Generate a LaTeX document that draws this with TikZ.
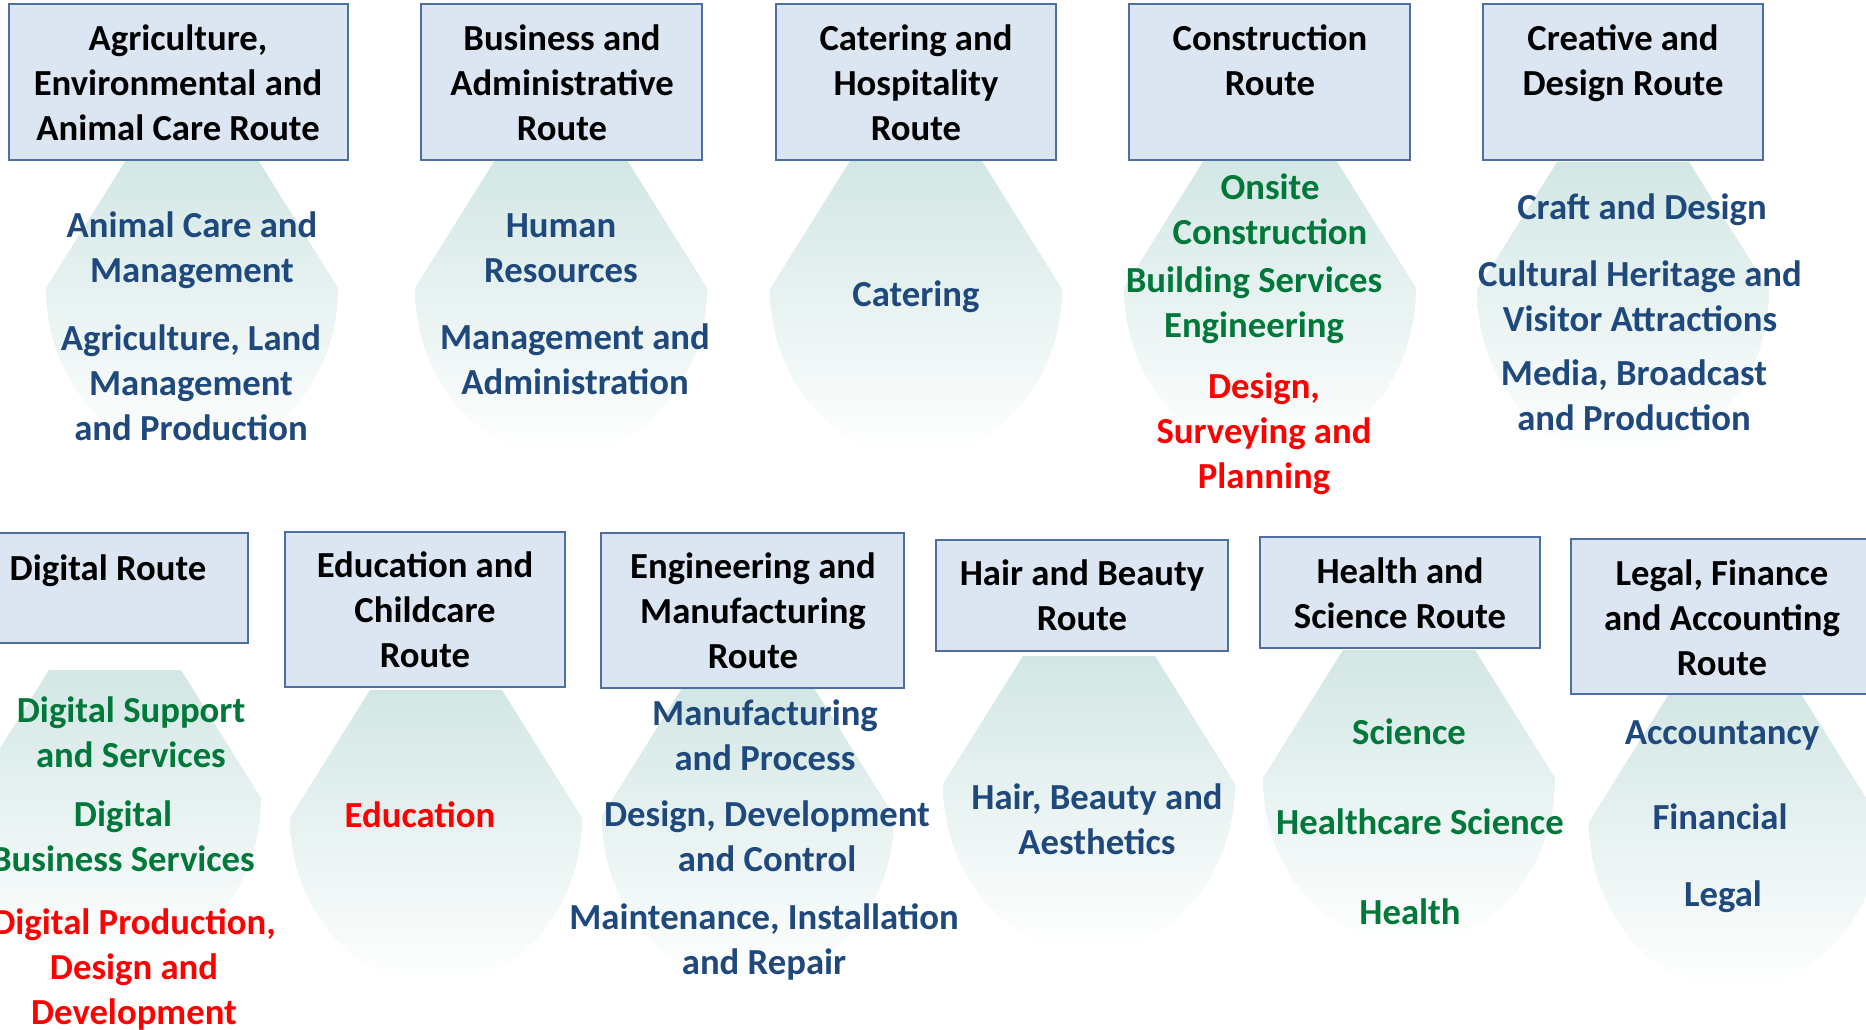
\documentclass[tikz,border=0pt]{standalone}
\usepackage{fontspec}
\setmainfont{Carlito}
\definecolor{boxfill}{HTML}{DCE6F2}
\definecolor{boxline}{HTML}{4E6FA3}
\definecolor{txtblue}{HTML}{1F497D}
\definecolor{txtgreen}{HTML}{00783A}
\definecolor{txtred}{HTML}{FF0000}
\definecolor{shadetop}{HTML}{D2E7E5}
\tikzset{
  routebox/.style={draw=boxline, fill=boxfill, line width=1.5pt, inner sep=0pt},
  rtitle/.style={align=center, text=black, inner sep=0pt,
    font=\bfseries\fontsize{36.7}{45}\selectfont,
    execute at begin node=\strut, execute at end node=\strut},
  subblue/.style={rtitle, text=txtblue},
  subgreen/.style={rtitle, text=txtgreen},
  subred/.style={rtitle, text=txtred},
  blob/.style={top color=shadetop, bottom color=white, draw=none}
}
\newcommand\routeblob[2]{%
  \path[blob] ({#1-66},#2) -- ({#1+66},#2) -- ({#1+146},{#2+128})
    .. controls ({#1+146},{#2+220}) and ({#1+81},{#2+295}) .. ({#1},{#2+295})
    .. controls ({#1-81},{#2+295}) and ({#1-146},{#2+220}) .. ({#1-146},{#2+128}) -- cycle;}
\begin{document}
\begin{tikzpicture}[x=1pt, y=-1pt]
\useasboundingbox (0,0) rectangle (1866,1030);
\clip (0,0) rectangle (1866,1030);
\fill[white] (0,0) rectangle (1866,1030);
% background shapes
\routeblob{192}{160}
\routeblob{561}{160}
\routeblob{916}{161}
\routeblob{1270}{160}
\routeblob{1623}{162}
\routeblob{115}{670}
\routeblob{436}{690}
\routeblob{748}{688}
\routeblob{1089}{656}
\routeblob{1409}{650}
\routeblob{1735}{694}
% top boxes
\node[routebox, minimum width=339, minimum height=156] (bx1) at (178.5,82) {};
\node[routebox, minimum width=281, minimum height=156] (bx2) at (561.5,82) {};
\node[routebox, minimum width=280, minimum height=156] (bx3) at (916,82) {};
\node[routebox, minimum width=281, minimum height=156] (bx4) at (1269.5,82) {};
\node[routebox, minimum width=280, minimum height=156] (bx5) at (1623,82) {};
% bottom boxes
\node[routebox, minimum width=280, minimum height=110] (by1) at (108,588) {};
\node[routebox, minimum width=280, minimum height=155] (by2) at (425,609.5) {};
\node[routebox, minimum width=303, minimum height=155] (by3) at (752.5,610.5) {};
\node[routebox, minimum width=292, minimum height=111] (by4) at (1082,595.5) {};
\node[routebox, minimum width=280, minimum height=111] (by5) at (1400,592.5) {};
\node[routebox, minimum width=302, minimum height=155] (by6) at (1722,616.5) {};
% box titles
\node[rtitle] (tx1) at (178,89.5) {Agriculture,\\Environmental and\\Animal Care Route};
\node[rtitle] (tx2) at (562,89.5) {Business and\\Administrative\\Route};
\node[rtitle] (tx3) at (916,89.5) {Catering and\\Hospitality\\Route};
\node[rtitle] (tx4) at (1270,67) {Construction\\Route};
\node[rtitle] (tx5) at (1623,67) {Creative and\\Design Route};
\node[rtitle] (ty1) at (108,571) {Digital Route};
\node[rtitle] (ty2) at (425,616) {Education and\\Childcare\\Route};
\node[rtitle] (ty3) at (753,617) {Engineering and\\Manufacturing\\Route};
\node[rtitle] (ty4) at (1082,602) {Hair and Beauty\\Route};
\node[rtitle] (ty5) at (1400,600) {Health and\\Science Route};
\node[rtitle] (ty6) at (1722,624) {Legal, Finance\\and Accounting\\Route};
% top row pathways
\node[subblue] (s11) at (192,254) {Animal Care and\\Management};
\node[subblue] (s12) at (191,389) {Agriculture, Land\\Management\\and Production};
\node[subblue] (s21) at (561,255) {Human\\Resources};
\node[subblue] (s22) at (575,366) {Management and\\Administration};
\node[subblue] (s31) at (916,297) {Catering};
\node[subgreen] (s41) at (1270,216) {Onsite\\Construction};
\node[subgreen] (s42) at (1254,309) {Building Services\\Engineering};
\node[subred] (s43) at (1264,437) {Design,\\Surveying and\\Planning};
\node[subblue] (s51) at (1642,210) {Craft and Design};
\node[subblue] (s52) at (1640,303) {Cultural Heritage and\\Visitor Attractions};
\node[subblue] (s53) at (1634,402) {Media, Broadcast\\and Production};
% bottom row pathways
\node[subgreen] (p11) at (131,739) {Digital Support\\and Services};
\node[subgreen] (p12) at (123,843) {Digital\\Business Services};
\node[subred] (p13) at (134,973) {Digital Production,\\Design and\\Development};
\node[subred] (p21) at (420,818) {Education};
\node[subblue] (p31) at (765,742) {Manufacturing\\and Process};
\node[subblue] (p32) at (767,843) {Design, Development\\and Control};
\node[subblue] (p33) at (764,946) {Maintenance, Installation\\and Repair};
\node[subblue] (p41) at (1097,826) {Hair, Beauty and\\Aesthetics};
\node[subgreen] (p51) at (1409,735) {Science};
\node[subgreen] (p52) at (1420,825) {Healthcare Science};
\node[subgreen] (p53) at (1410,915) {Health};
\node[subblue] (p61) at (1722,735) {Accountancy};
\node[subblue] (p62) at (1720,820) {Financial};
\node[subblue] (p63) at (1723,897) {Legal};
\end{tikzpicture}
\end{document}
